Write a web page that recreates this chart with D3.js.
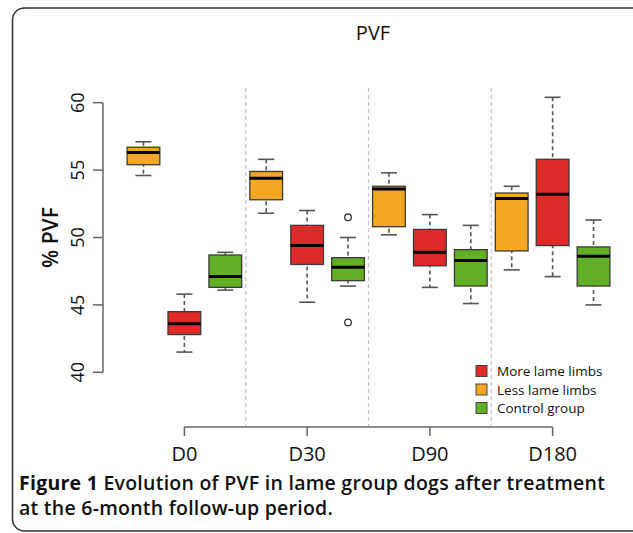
<!DOCTYPE html>
<html>
<head>
    <title>PVF boxplot</title>
    <script src="https://d3js.org/d3.v7.min.js"></script>
    <style>
        body { margin: 0; background: white; }
        text { font-family: "Open Sans", sans-serif; fill: #111; }
    </style>
</head>
<body>
    <div id="chart"></div>

    <script>
        const width = 633;
        const height = 533;

        const days = ["D0", "D30", "D90", "D180"];
        const groups = ["Less lame limbs", "More lame limbs", "Control group"];
        const legendOrder = ["More lame limbs", "Less lame limbs", "Control group"];
        const colors = ["#f3a722", "#e02a29", "#62ae27"];

        // [lower whisker, q1, median, q3, upper whisker] per day
        const lessLame = [
            [54.6, 55.4, 56.3, 56.7, 57.1],
            [51.8, 52.8, 54.4, 54.9, 55.8],
            [50.2, 50.8, 53.6, 53.8, 54.8],
            [47.6, 49.0, 52.9, 53.3, 53.8]
        ];
        const moreLame = [
            [41.5, 42.8, 43.6, 44.5, 45.8],
            [45.2, 48.0, 49.4, 50.9, 52.0],
            [46.3, 47.9, 48.9, 50.6, 51.7],
            [47.1, 49.4, 53.2, 55.8, 60.4]
        ];
        const control = [
            [46.1, 46.3, 47.1, 48.7, 48.9],
            [46.4, 46.8, 47.8, 48.5, 50.0],
            [45.1, 46.4, 48.3, 49.1, 50.9],
            [45.0, 46.4, 48.6, 49.3, 51.3]
        ];
        const outliers = [
            { day: "D30", group: "Control group", value: 51.5 },
            { day: "D30", group: "Control group", value: 43.7 }
        ];
        const yTicks = [40, 45, 50, 55, 60];

        const series = [lessLame, moreLame, control];
        const boxes = [];
        days.forEach((d, i) => {
            groups.forEach((g, j) => {
                const s = series[j][i];
                boxes.push({ key: d + "|" + g, day: d, group: g, color: colors[j],
                    lo: s[0], q1: s[1], med: s[2], q3: s[3], hi: s[4] });
            });
        });

        const svg = d3.select("#chart")
            .append("svg")
            .attr("width", width)
            .attr("height", height);

        // rounded frame
        svg.append("rect")
            .attr("x", 12.5).attr("y", 8)
            .attr("width", 640).attr("height", 523)
            .attr("rx", 12)
            .attr("fill", "none")
            .attr("stroke", "#333")
            .attr("stroke-width", 1.5);

        const x = d3.scaleBand()
            .domain(boxes.map(b => b.key))
            .range([123, 614])
            .paddingInner(0.2)
            .paddingOuter(0.1);

        const y = d3.scaleLinear()
            .domain([40, 60])
            .range([372.3, 102.7]);

        const bw = x.bandwidth();
        const cx = key => x(key) + bw / 2;
        const dayX = d => cx(d + "|" + groups[1]);

        // separators between days
        for (let i = 0; i < days.length - 1; i++) {
            const xs = (cx(days[i] + "|" + groups[2]) + cx(days[i + 1] + "|" + groups[0])) / 2;
            svg.append("line")
                .attr("x1", xs).attr("x2", xs)
                .attr("y1", 88).attr("y2", 426)
                .attr("stroke", "#c4c4c4")
                .attr("stroke-width", 1.2)
                .attr("stroke-dasharray", "4,3");
        }

        // title
        svg.append("text")
            .attr("x", 373).attr("y", 40)
            .attr("text-anchor", "middle")
            .style("font-size", "20px")
            .text("PVF");

        // y axis
        const yAxis = svg.append("g").attr("transform", "translate(103,0)");
        yAxis.append("line")
            .attr("x1", 0).attr("x2", 0)
            .attr("y1", y(60)).attr("y2", y(40))
            .attr("stroke", "#666").attr("stroke-width", 1.5);
        yAxis.selectAll(".tick")
            .data(yTicks)
            .enter()
            .append("line")
            .attr("x1", -10).attr("x2", 0)
            .attr("y1", d => y(d)).attr("y2", d => y(d))
            .attr("stroke", "#666").attr("stroke-width", 1.5);
        yAxis.selectAll(".lbl")
            .data(yTicks)
            .enter()
            .append("text")
            .attr("transform", d => `translate(-19,${y(d)}) rotate(-90)`)
            .attr("text-anchor", "middle")
            .style("font-size", "18px")
            .text(d => d);

        svg.append("text")
            .attr("transform", `translate(58,${y(50)}) rotate(-90)`)
            .attr("text-anchor", "middle")
            .style("font-size", "21px")
            .style("font-weight", "600")
            .text("% PVF");

        // x axis
        const xAxis = svg.append("g").attr("transform", "translate(0,427)");
        xAxis.append("line")
            .attr("x1", dayX(days[0])).attr("x2", dayX(days[3]))
            .attr("y1", 0).attr("y2", 0)
            .attr("stroke", "#666").attr("stroke-width", 1.5);
        xAxis.selectAll(".tick")
            .data(days)
            .enter()
            .append("line")
            .attr("x1", d => dayX(d)).attr("x2", d => dayX(d))
            .attr("y1", 0).attr("y2", 9)
            .attr("stroke", "#666").attr("stroke-width", 1.5);
        xAxis.selectAll(".lbl")
            .data(days)
            .enter()
            .append("text")
            .attr("x", d => dayX(d))
            .attr("y", 34)
            .attr("text-anchor", "middle")
            .style("font-size", "20px")
            .text(d => d);

        // boxes
        const g = svg.selectAll(".box")
            .data(boxes)
            .enter()
            .append("g");

        g.append("line")
            .attr("x1", d => cx(d.key)).attr("x2", d => cx(d.key))
            .attr("y1", d => y(d.hi)).attr("y2", d => y(d.lo))
            .attr("stroke", "#555")
            .attr("stroke-width", 1.6)
            .attr("stroke-dasharray", "4,3");
        g.selectAll(".cap")
            .data(d => [d.lo, d.hi].map(v => ({ k: d.key, v })))
            .enter()
            .append("line")
            .attr("x1", d => cx(d.k) - 8).attr("x2", d => cx(d.k) + 8)
            .attr("y1", d => y(d.v)).attr("y2", d => y(d.v))
            .attr("stroke", "#555")
            .attr("stroke-width", 1.6);
        g.append("rect")
            .attr("x", d => x(d.key))
            .attr("y", d => y(d.q3))
            .attr("width", bw)
            .attr("height", d => y(d.q1) - y(d.q3))
            .attr("fill", d => d.color)
            .attr("stroke", "#3a3a3a")
            .attr("stroke-width", 1.3);
        g.append("line")
            .attr("x1", d => x(d.key)).attr("x2", d => x(d.key) + bw)
            .attr("y1", d => y(d.med)).attr("y2", d => y(d.med))
            .attr("stroke", "#000")
            .attr("stroke-width", 3);

        svg.selectAll(".out")
            .data(outliers)
            .enter()
            .append("circle")
            .attr("cx", d => cx(d.day + "|" + d.group))
            .attr("cy", d => y(d.value))
            .attr("r", 3.3)
            .attr("fill", "none")
            .attr("stroke", "#333")
            .attr("stroke-width", 1.3);

        // legend
        const legend = svg.selectAll(".legend")
            .data(legendOrder)
            .enter()
            .append("g")
            .attr("transform", (d, i) => `translate(476,${371 + i * 18.5})`);
        legend.append("rect")
            .attr("x", 0).attr("y", -5.5)
            .attr("width", 11).attr("height", 11)
            .attr("fill", d => colors[groups.indexOf(d)])
            .attr("stroke", "#444")
            .attr("stroke-width", 1);
        legend.append("text")
            .attr("x", 21).attr("y", 5)
            .style("font-size", "13.5px")
            .style("font-weight", "500")
            .text(d => d);

        // caption
        const line1 = svg.append("text")
            .attr("x", 19).attr("y", 490)
            .style("font-size", "19.5px")
            .style("font-weight", "600")
            .style("letter-spacing", "0.25px");
        line1.append("tspan")
            .style("font-weight", "700")
            .text("Figure 1 ");
        line1.append("tspan")
            .text("Evolution of PVF in lame group dogs after treatment");
        svg.append("text")
            .attr("x", 19).attr("y", 515)
            .style("font-size", "19.5px")
            .style("font-weight", "600")
            .style("letter-spacing", "0.25px")
            .text("at the 6-month follow-up period.");
    </script>
</body>
</html>
